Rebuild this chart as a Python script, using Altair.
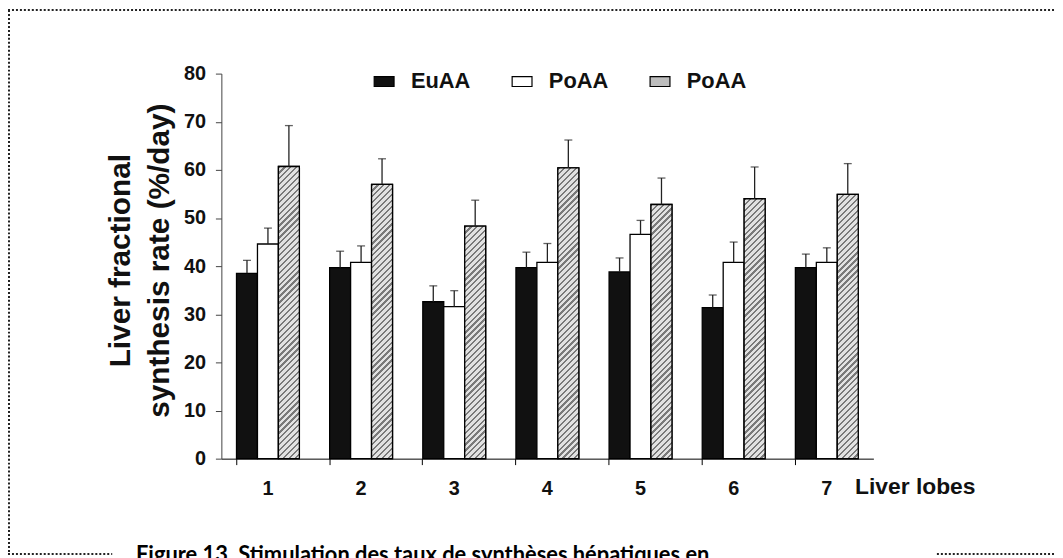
import json
import math
import altair as alt
import pandas as pd

# ---- data ----
lobes = ["1", "2", "3", "4", "5", "6", "7"]
series_names = ["EuAA", "PoAA", "PoAA"]
series_keys = ["s1", "s2", "s3"]
euaa = [38.5, 39.7, 32.6, 39.7, 38.8, 31.4, 39.7]
euaa_sem = [2.7, 3.4, 3.3, 3.2, 2.9, 2.6, 2.8]
poaa_a = [44.6, 40.8, 31.6, 40.8, 46.6, 40.8, 40.8]
poaa_a_sem = [3.3, 3.4, 3.3, 3.9, 2.9, 4.2, 3.0]
poaa_b = [60.7, 57.0, 48.3, 60.4, 52.8, 54.0, 54.9]
poaa_b_sem = [8.5, 5.3, 5.4, 5.8, 5.5, 6.6, 6.4]
y_ticks = [0, 10, 20, 30, 40, 50, 60, 70, 80]
y_title = ["Liver fractional", "synthesis rate (%/day)"]
x_title = "Liver lobes"
caption = "Figure 13. Stimulation des taux de synthèses hépatiques en"

# ---- layout / style ----
W, H = 657, 388
Y_MAX = 80
FONT = "Liberation Sans"
PAD_INNER = 0.325
BAR_W = W / len(lobes) * (1 - PAD_INNER) / len(series_keys)
HATCH_DARK, HATCH_LIGHT, HATCH_PERIOD = "#7a7a7a", "#e2e2e2", 4.2


def hatch_fill(value):
    """Diagonal '////' hatch as a linear gradient over one bar's box."""
    w = BAR_W
    h = max(value * H / Y_MAX, 1.0)
    k = (w + h) / (w * w + h * h)
    n = max(1, round((w + h) / (HATCH_PERIOD * math.sqrt(2))))
    stops = []
    for i in range(n):
        a, b, c = i / n, (i + 0.38) / n, (i + 1) / n
        stops += [
            {"offset": round(a, 5), "color": HATCH_DARK},
            {"offset": round(b, 5), "color": HATCH_DARK},
            {"offset": round(b, 5), "color": HATCH_LIGHT},
            {"offset": round(c, 5), "color": HATCH_LIGHT},
        ]
    return {"gradient": "linear", "x1": 0, "y1": 0, "x2": k * w, "y2": k * h, "stops": stops}


values = [euaa, poaa_a, poaa_b]
sems = [euaa_sem, poaa_a_sem, poaa_b_sem]
rows = []
for k, name, vals, errs in zip(series_keys, series_names, values, sems):
    for lobe, v, e in zip(lobes, vals, errs):
        rows.append({"lobe": lobe, "key": k, "series": name, "value": v, "sem": e})
df = pd.DataFrame(rows)

hatch_rows = [
    {"lobe": lobe, "key": series_keys[2], "value": v, "hatch": hatch_fill(v)}
    for lobe, v in zip(lobes, poaa_b)
]

label_expr = f"{json.dumps(series_names)}[indexof({json.dumps(series_keys)}, datum.value)]"

x_enc = alt.X(
    "lobe:N",
    sort=lobes,
    scale=alt.Scale(paddingInner=PAD_INNER, paddingOuter=PAD_INNER / 2),
    axis=alt.Axis(
        title=x_title,
        labelAngle=0,
        bandPosition=0,
        tickSize=6,
        tickColor="#000",
        domainColor="#000",
        labelFontSize=20,
        labelFontWeight="bold",
        labelPadding=14,
        labelColor="#111",
        titleFontSize=23,
        titleFontWeight="bold",
        titleColor="#111",
        titleAngle=0,
        titleAlign="left",
        titleBaseline="alphabetic",
        titleX=638,
        titleY=35,
    ),
)
xoff_enc = alt.XOffset(
    "key:N", sort=series_keys, scale=alt.Scale(paddingInner=0, paddingOuter=0)
)
yscale = alt.Scale(domain=[0, Y_MAX], nice=False)

base = alt.Chart(df).encode(x=x_enc, xOffset=xoff_enc)

bars = base.mark_bar(stroke="#000", strokeWidth=1.3).encode(
    y=alt.Y(
        "value:Q",
        scale=yscale,
        axis=alt.Axis(
            values=y_ticks,
            grid=False,
            tickSize=6,
            tickColor="#444",
            domainColor="#444",
            labelFontSize=20,
            labelFontWeight="bold",
            labelPadding=10,
            labelColor="#111",
            title=y_title,
            titleFontSize=30,
            titleFontWeight="bold",
            titleColor="#111",
            titleLineHeight=40,
            titleBaseline="bottom",
            titleX=-87,
            titleY=188,
        ),
    ),
    fill=alt.Fill(
        "key:N",
        scale=alt.Scale(domain=series_keys, range=["#111111", "#ffffff", "#bdbdbd"]),
        legend=alt.Legend(
            orient="none",
            legendX=153,
            legendY=-3,
            direction="horizontal",
            title=None,
            labelExpr=label_expr,
            symbolType="M-1,-0.5H1V0.5H-1Z",
            symbolSize=400,
            symbolStrokeColor="#000",
            symbolStrokeWidth=1.2,
            labelFontSize=22,
            labelFontWeight="bold",
            labelColor="#111",
            labelOffset=16,
            columnPadding=39,
            padding=0,
        ),
    ),
)

hatch = (
    alt.Chart(alt.Data(values=hatch_rows))
    .mark_bar(stroke="#000", strokeWidth=1.3)
    .encode(
        x=x_enc,
        xOffset=xoff_enc,
        y=alt.Y("value:Q", scale=yscale),
        fill=alt.Fill("hatch:N", scale=None, legend=None),
    )
)

err_rule = (
    base.transform_calculate(top="datum.value + datum.sem")
    .mark_rule(color="#222", strokeWidth=1.3)
    .encode(y=alt.Y("value:Q", scale=yscale), y2="top:Q")
)
err_cap = (
    base.transform_calculate(top="datum.value + datum.sem")
    .mark_tick(color="#222", thickness=1.3, size=8)
    .encode(y=alt.Y("top:Q", scale=yscale))
)

one = pd.DataFrame({"k": [0]})
dot = dict(strokeDash=[2, 2], strokeWidth=2, color="#222")
border_top = alt.Chart(one).mark_rule(**dot).encode(
    x=alt.value(-215), x2=alt.value(840), y=alt.value(-64)
)
border_left = alt.Chart(one).mark_rule(**dot).encode(
    x=alt.value(-214), y=alt.value(-64), y2=alt.value(484)
)
border_bl = alt.Chart(one).mark_rule(**dot).encode(
    x=alt.value(-215), x2=alt.value(-110), y=alt.value(484)
)
border_br = alt.Chart(one).mark_rule(**dot).encode(
    x=alt.value(721), x2=alt.value(840), y=alt.value(484)
)

chart = (
    alt.layer(
        bars, hatch, err_rule, err_cap, border_top, border_left, border_bl, border_br
    )
    .resolve_scale(fill="independent")
    .properties(
        width=W,
        height=H,
        autosize=alt.AutoSizeParams(type="none"),
        padding={"left": 215, "top": 64, "right": 183, "bottom": 98},
        title=alt.TitleParams(
            text=caption,
            orient="bottom",
            anchor="start",
            frame="group",
            dx=-86,
            offset=0,
            dy=-10,
            font="Lato",
            fontSize=22,
            fontWeight="bold",
            color="#000",
            baseline="top",
        ),
    )
    .configure(font=FONT)
    .configure_view(stroke=None)
)

chart.save("out.html", embed_options={"renderer": "svg", "actions": False})
